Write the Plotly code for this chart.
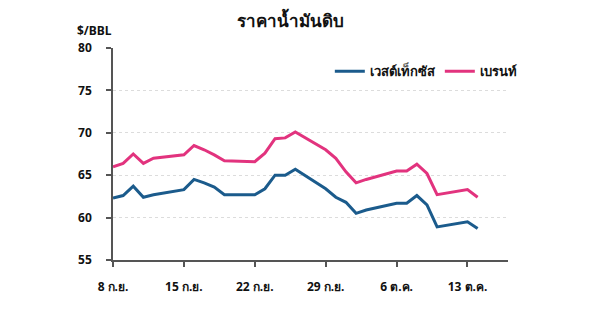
import plotly.graph_objects as go

dates = ["2025-09-08", "2025-09-09", "2025-09-10", "2025-09-11", "2025-09-12",
         "2025-09-15", "2025-09-16", "2025-09-17", "2025-09-18", "2025-09-19",
         "2025-09-22", "2025-09-23", "2025-09-24", "2025-09-25", "2025-09-26",
         "2025-09-29", "2025-09-30", "2025-10-01", "2025-10-02", "2025-10-03",
         "2025-10-06", "2025-10-07", "2025-10-08", "2025-10-09", "2025-10-10",
         "2025-10-13", "2025-10-14"]
wti = [62.3, 62.6, 63.7, 62.4, 62.7,
       63.3, 64.5, 64.1, 63.6, 62.7,
       62.7, 63.4, 65.0, 65.0, 65.7,
       63.4, 62.4, 61.8, 60.5, 60.9,
       61.7, 61.7, 62.6, 61.5, 58.9,
       59.5, 58.7]
brent = [66.0, 66.4, 67.5, 66.4, 67.0,
         67.4, 68.5, 68.0, 67.4, 66.7,
         66.6, 67.6, 69.3, 69.4, 70.1,
         68.0, 67.0, 65.4, 64.1, 64.5,
         65.5, 65.5, 66.3, 65.2, 62.7,
         63.3, 62.4]
tick_dates = ["2025-09-08", "2025-09-15", "2025-09-22", "2025-09-29", "2025-10-06", "2025-10-13"]
tick_labels = ["8 ก.ย.", "15 ก.ย.", "22 ก.ย.", "29 ก.ย.", "6 ต.ค.", "13 ต.ค."]
y_ticks = [55, 60, 65, 70, 75, 80]
series_names = ["เวสต์เท็กซัส", "เบรนท์"]

FONT = "Noto Sans, DejaVu Sans, sans-serif"

fig = go.Figure()
fig.add_trace(go.Scatter(x=dates, y=wti, mode="lines", name="<b>" + series_names[0] + "</b>",
                         line=dict(color="#1b5b8c", width=3)))
fig.add_trace(go.Scatter(x=dates, y=brent, mode="lines", name="<b>" + series_names[1] + "</b>",
                         line=dict(color="#e2337e", width=3)))

fig.update_layout(
    width=600, height=314,
    margin=dict(l=113, r=92, t=48, b=54),
    paper_bgcolor="white", plot_bgcolor="white",
    font=dict(family=FONT, color="#111111", size=12),
    showlegend=True,
    legend=dict(orientation="h", x=1.035, xanchor="right", y=0.89, yanchor="middle",
                font=dict(size=13, color="#111111"), itemwidth=30,
                bgcolor="rgba(0,0,0,0)", tracegroupgap=0),
    annotations=[
        dict(text="<b>ราคาน้ำมันดิบ</b>", xref="paper", yref="paper",
             x=(290 - 113) / 395, y=(260 - 20) / 212, xanchor="center", yanchor="middle",
             showarrow=False, font=dict(size=17, color="#111111")),
        dict(text="<b>$/BBL</b>", xref="paper", yref="paper",
             x=(75 - 113) / 395, y=(260 - 31) / 212, xanchor="left", yanchor="middle",
             showarrow=False, font=dict(size=12, color="#111111")),
    ],
)

fig.update_xaxes(
    type="date", range=["2025-09-08", "2025-10-17"],
    tickvals=tick_dates, ticktext=["<b>" + t + "</b>" for t in tick_labels],
    showgrid=False, zeroline=False,
    showline=True, linecolor="#555555", linewidth=1.5,
    ticks="outside", ticklen=5, tickcolor="#555555", tickwidth=1.5,
    tickfont=dict(size=12, color="#111111"), ticklabelstandoff=10,
)
fig.update_yaxes(
    range=[55, 80], tickvals=y_ticks, ticktext=["<b>%d</b>" % v for v in y_ticks],
    showgrid=True, gridcolor="#dcdcdc", griddash="dot", gridwidth=1,
    zeroline=False,
    showline=True, linecolor="#555555", linewidth=1.5,
    ticks="outside", ticklen=5, tickcolor="#555555", tickwidth=1.5,
    tickfont=dict(size=12, color="#111111"), ticklabelstandoff=12,
)

fig.write_html("out.html")
